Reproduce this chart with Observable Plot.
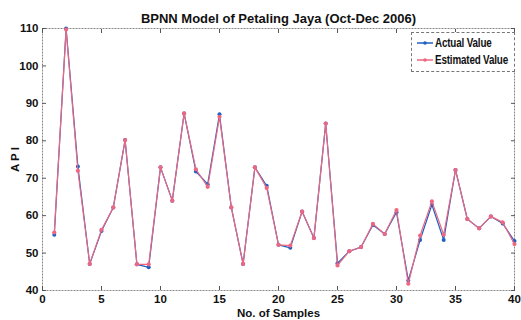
<!DOCTYPE html>
<html>
<head>
<meta charset="utf-8">
<script src="https://cdn.jsdelivr.net/npm/d3@7"></script>
<script src="https://cdn.jsdelivr.net/npm/@observablehq/plot@0.6"></script>
<style>
  html, body { margin: 0; padding: 0; background: #fff; }
  #wrap { position: relative; width: 521px; height: 320px; }
  #legend {
    position: absolute; left: 411px; top: 32px; width: 104px; height: 40px;
    border: 1px dashed #777; background: #fff; box-sizing: border-box;
    font-family: "Liberation Sans", sans-serif;
    font-size: 12px; font-weight: bold; color: #111;
  }
  .item { position: absolute; left: 5px; display: flex; align-items: center; white-space: nowrap; }
  .item svg { margin-right: 2px; }
  .item span { display: inline-block; transform: scaleX(0.82); transform-origin: left center; letter-spacing: -0.2px; }
</style>
</head>
<body>
<div id="wrap">
  <div id="chart"></div>
  <div id="legend"></div>
</div>
<script>
const title = "BPNN Model of Petaling Jaya (Oct-Dec 2006)";
const xLabel = "No. of Samples";
const yLabel = "A P I";
const seriesNames = ["Actual Value", "Estimated Value"];
const seriesColors = ["#2060c0", "#ee6680"];
const xTicks = [0, 5, 10, 15, 20, 25, 30, 35, 40];
const yTicks = [40, 50, 60, 70, 80, 90, 100, 110];
const samples = [1,2,3,4,5,6,7,8,9,10,11,12,13,14,15,16,17,18,19,20,21,22,23,24,25,26,27,28,29,30,31,32,33,34,35,36,37,38,39,40];
const actual = [54.9,110,73.1,47.1,55.9,62.2,80.2,47.0,46.2,72.9,64.0,87.3,71.8,68.4,87.1,62.2,47.1,72.9,68.0,52.2,51.4,61.1,54.0,84.6,47.3,50.5,51.6,57.5,55.1,60.9,42.7,53.5,62.9,53.5,72.2,59.1,56.6,59.8,57.9,53.2];
const estimated = [55.5,109.7,72.0,47.1,56.2,62.2,80.2,47.0,47.0,72.9,64.0,87.3,72.4,67.7,86.4,62.2,47.1,72.9,67.4,52.2,52.0,61.1,54.0,84.6,46.7,50.5,51.6,57.8,55.1,61.5,41.8,54.7,63.8,54.9,72.2,59.1,56.6,59.8,58.2,52.4];

const dataA = samples.map((s, i) => ({x: s, y: actual[i]}));
const dataE = samples.map((s, i) => ({x: s, y: estimated[i]}));

const font = "'Liberation Sans', sans-serif";

const chart = Plot.plot({
  width: 521,
  height: 320,
  marginLeft: 42,
  marginRight: 7,
  marginTop: 28,
  marginBottom: 30,
  style: {fontFamily: font, fontSize: "11.5px", background: "#fff", color: "#111", overflow: "visible"},
  x: {domain: [0, 40]},
  y: {domain: [40, 110]},
  marks: [
    Plot.frame({stroke: "#888", strokeDasharray: "2,1"}),
    Plot.axisX({ticks: xTicks, tickSize: -4, tickPadding: 8, stroke: "#555", fontWeight: "bold", label: xLabel, labelAnchor: "center", labelArrow: "none", labelOffset: 26}),
    Plot.axisX({anchor: "top", ticks: xTicks, tickSize: -4, tickFormat: () => "", stroke: "#555", label: null}),
    Plot.axisY({ticks: yTicks, tickSize: -4, tickPadding: 8, stroke: "#555", fontWeight: "bold", label: yLabel, labelAnchor: "center", labelArrow: "none", labelOffset: 32}),
    Plot.axisY({anchor: "right", ticks: yTicks, tickSize: -4, tickFormat: () => "", stroke: "#555", label: null}),
    Plot.line(dataA, {x: "x", y: "y", stroke: seriesColors[0], strokeWidth: 1.2}),
    Plot.dot(dataA, {x: "x", y: "y", fill: seriesColors[0], r: 2}),
    Plot.line(dataE, {x: "x", y: "y", stroke: seriesColors[1], strokeWidth: 1.2}),
    Plot.dot(dataE, {x: "x", y: "y", fill: seriesColors[1], r: 2.1}),
    Plot.text([title], {text: d => d, frameAnchor: "top", dy: -15, fontSize: 13, fontWeight: "bold", fill: "#111"})
  ]
});
document.getElementById("chart").appendChild(chart);

// legend
const legend = document.getElementById("legend");
seriesNames.forEach((name, i) => {
  const item = document.createElement("div");
  item.className = "item";
  item.style.top = (i === 0 ? 3 : 20) + "px";
  item.innerHTML = `<svg width="16" height="14"><line x1="0" x2="16" y1="7" y2="7" stroke="${seriesColors[i]}" stroke-width="1.5"/><circle cx="8" cy="7" r="1.8" fill="${seriesColors[i]}"/></svg><span>${name}</span>`;
  legend.appendChild(item);
});
</script>
</body>
</html>
